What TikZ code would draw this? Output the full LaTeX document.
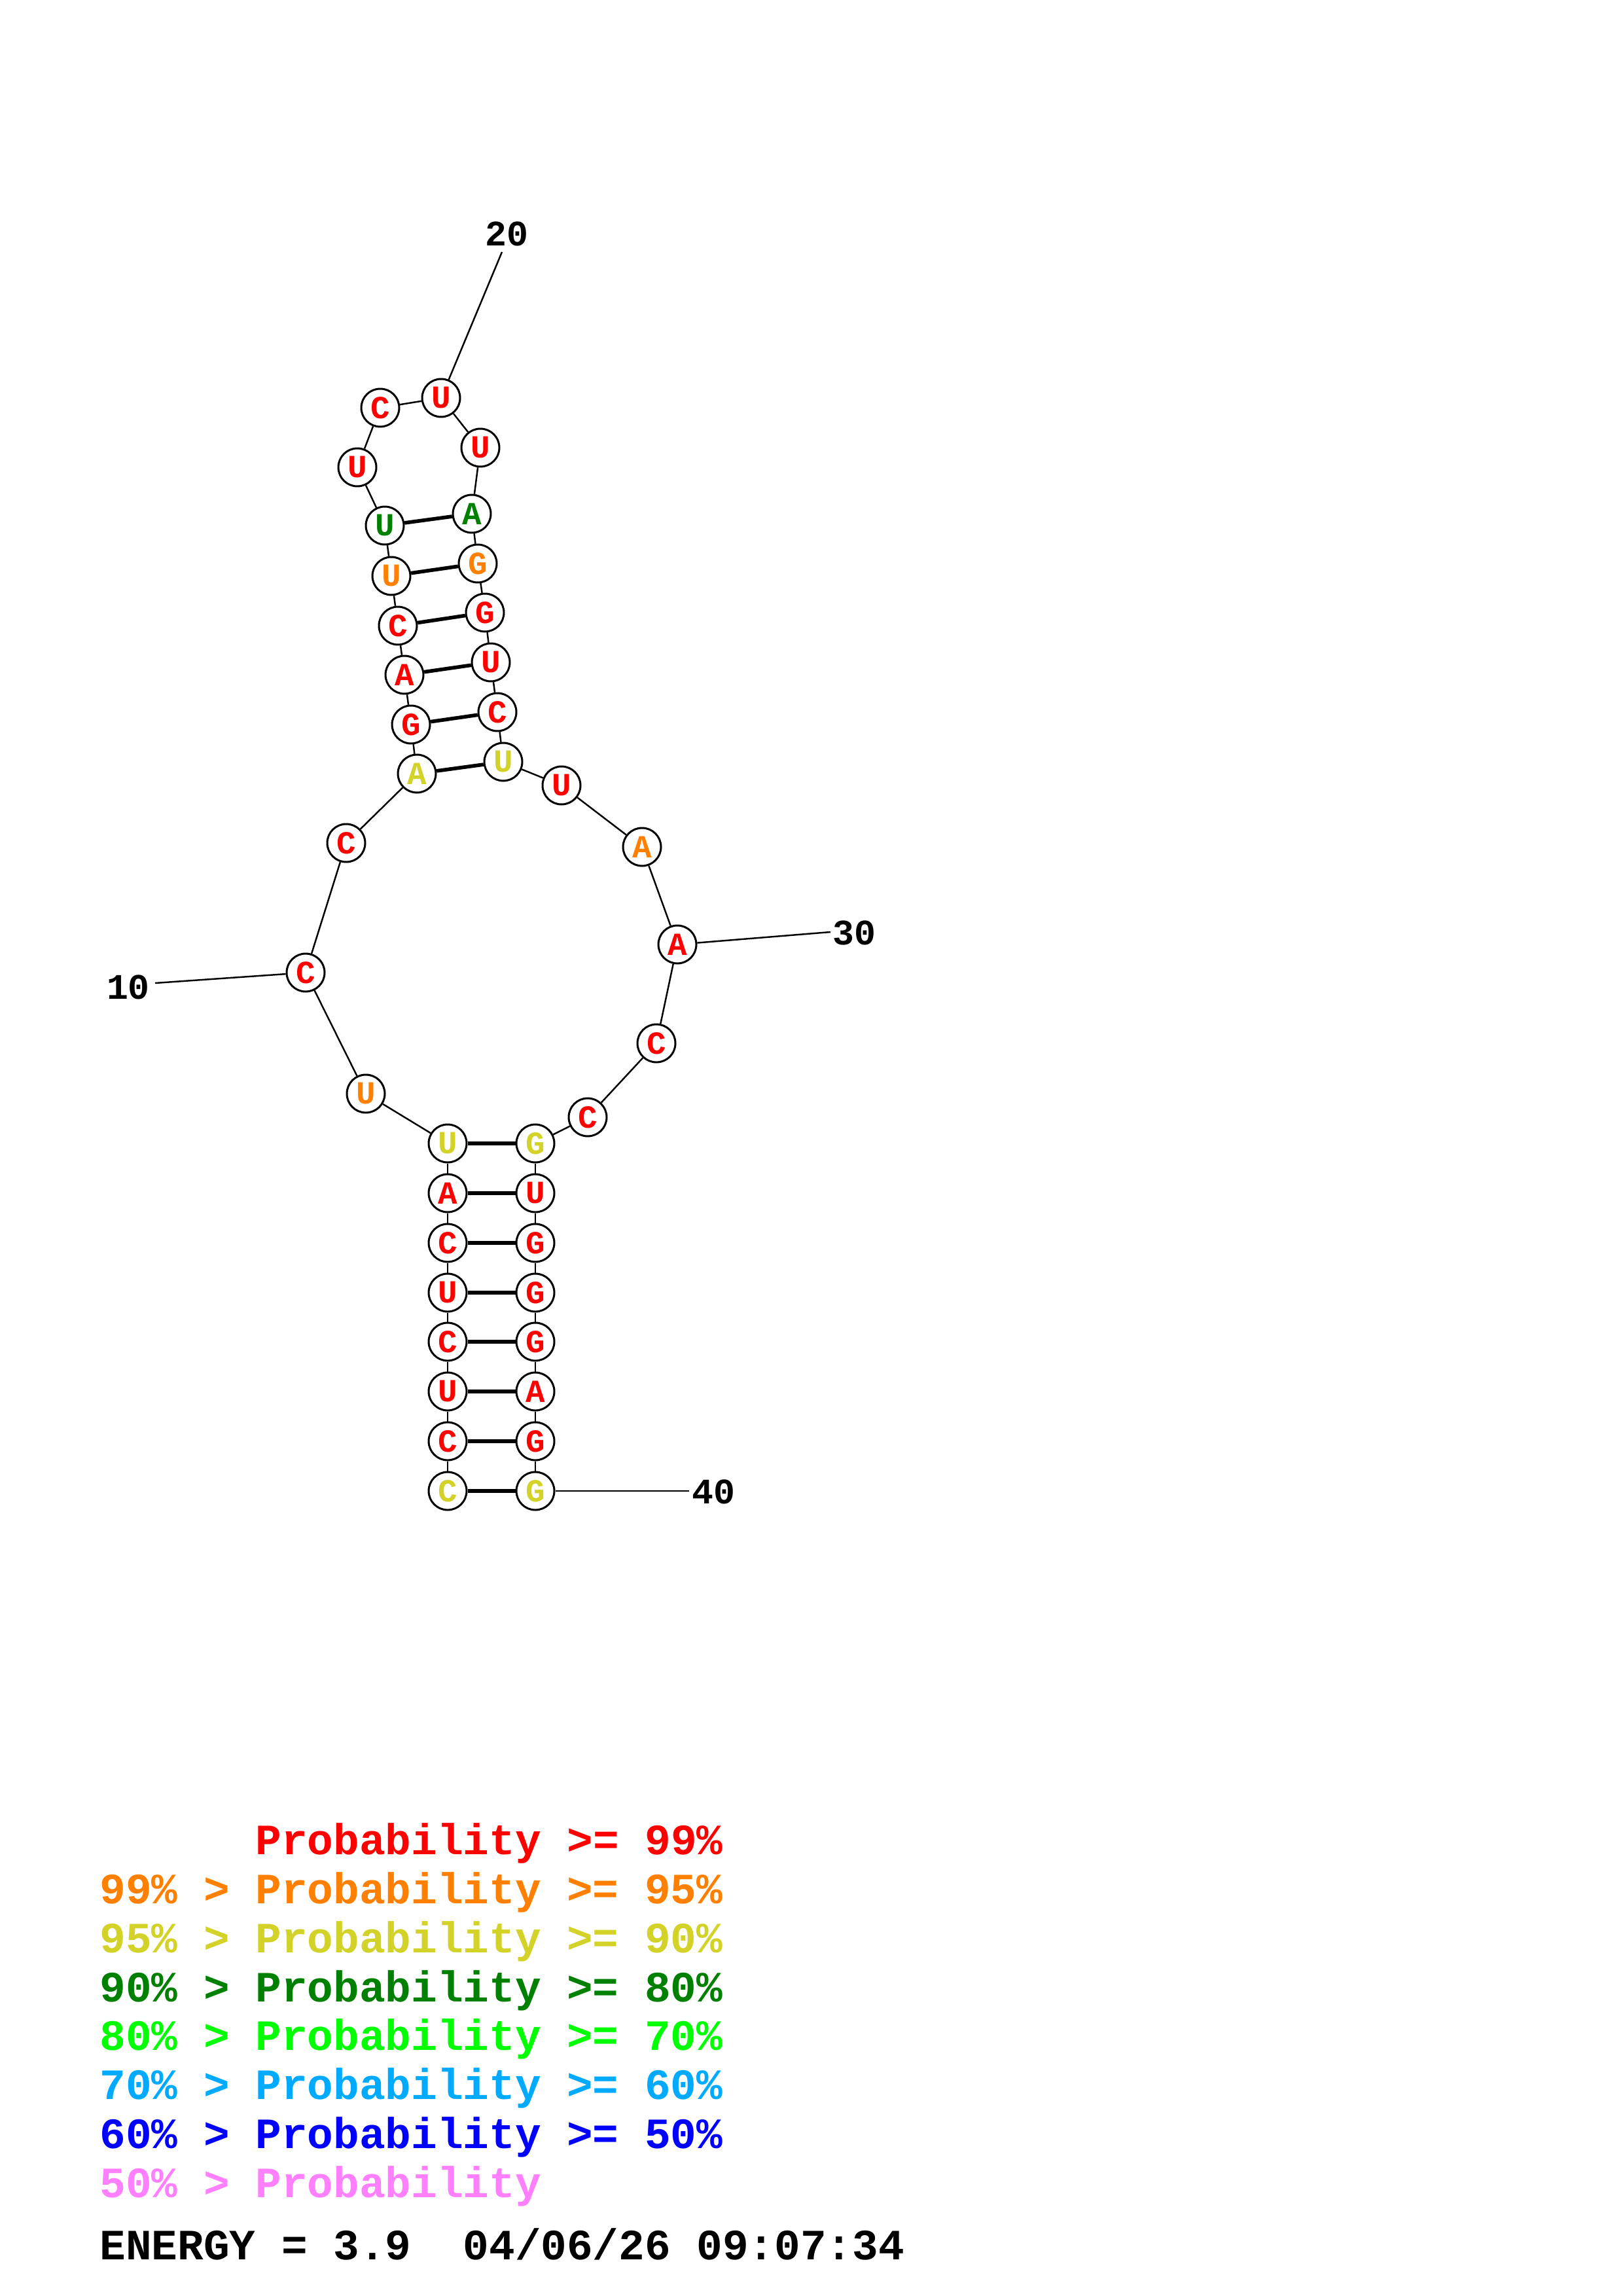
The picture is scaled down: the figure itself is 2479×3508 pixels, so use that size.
\documentclass[tikz,border=0pt]{standalone}
\usepackage{fontspec}
\newfontfamily\monofam{Liberation Mono}
\newcommand\myntfont{\monofam\bfseries\fontsize{14}{14}\selectfont}
\newcommand\mynumfont{\monofam\bfseries\fontsize{15.6}{16}\selectfont}
\newcommand\mylegfont{\monofam\bfseries\fontsize{18.8}{19}\selectfont}
\definecolor{cred}{RGB}{255,0,0}
\definecolor{corange}{RGB}{255,128,0}
\definecolor{cyellow}{RGB}{210,210,40}
\definecolor{cdgreen}{RGB}{0,128,0}
\definecolor{cgreen}{RGB}{0,255,0}
\definecolor{clblue}{RGB}{0,170,255}
\definecolor{cblue}{RGB}{0,0,255}
\definecolor{cpink}{RGB}{255,128,255}
\begin{document}
\begin{tikzpicture}[x=0.1mm,y=-0.1mm,
  nt/.style={circle,draw,line width=0.85pt,fill=white,minimum size=5.8mm,inner sep=0pt,font=\myntfont,text=cred},
  bb/.style={line width=0.7pt},
  bp/.style={line width=1.6pt},
  lbl/.style={font=\mynumfont},
  leg/.style={anchor=base west,font=\mylegfont,inner sep=0pt}]
\fill[white] (0,0) rectangle (2479,3508);
\useasboundingbox (0,0) rectangle (2479,3508);
% nucleotides
\node[nt,text=cyellow] (n1) at (684,2278) {C};
\node[nt] (n2) at (684,2202) {C};
\node[nt] (n3) at (684,2126) {U};
\node[nt] (n4) at (684,2050) {C};
\node[nt] (n5) at (684,1975) {U};
\node[nt] (n6) at (684,1899) {C};
\node[nt] (n7) at (684,1823) {A};
\node[nt,text=cyellow] (n8) at (684,1747) {U};
\node[nt,text=corange] (n9) at (559,1671) {U};
\node[nt] (n10) at (467,1486) {C};
\node[nt] (n11) at (529,1288) {C};
\node[nt,text=cyellow] (n12) at (637,1182) {A};
\node[nt] (n13) at (628,1107) {G};
\node[nt] (n14) at (618,1031) {A};
\node[nt] (n15) at (608,956) {C};
\node[nt,text=corange] (n16) at (598,880) {U};
\node[nt,text=cdgreen] (n17) at (588,803) {U};
\node[nt] (n18) at (546,714) {U};
\node[nt] (n19) at (581,623) {C};
\node[nt] (n20) at (674,608) {U};
\node[nt] (n21) at (734,684) {U};
\node[nt,text=cdgreen] (n22) at (721,785) {A};
\node[nt,text=corange] (n23) at (730,861) {G};
\node[nt] (n24) at (741,936) {G};
\node[nt] (n25) at (750,1012) {U};
\node[nt] (n26) at (760,1088) {C};
\node[nt,text=cyellow] (n27) at (769,1164) {U};
\node[nt] (n28) at (858,1200) {U};
\node[nt,text=corange] (n29) at (981,1294) {A};
\node[nt] (n30) at (1035,1443) {A};
\node[nt] (n31) at (1003,1594) {C};
\node[nt] (n32) at (898,1707) {C};
\node[nt,text=cyellow] (n33) at (818,1747) {G};
\node[nt] (n34) at (818,1823) {U};
\node[nt] (n35) at (818,1899) {G};
\node[nt] (n36) at (818,1975) {G};
\node[nt] (n37) at (818,2050) {G};
\node[nt] (n38) at (818,2126) {A};
\node[nt] (n39) at (818,2202) {G};
\node[nt,text=cyellow] (n40) at (818,2278) {G};
% backbone
\foreach \i [evaluate=\i as \j using int(\i+1)] in {1,...,39}
  \draw[bb] (n\i) -- (n\j);
% base pairs
\foreach \i [evaluate=\i as \j using int(41-\i)] in {1,...,8}
  \draw[bp] (n\i) -- (n\j);
\foreach \i [evaluate=\i as \j using int(39-\i)] in {12,...,17}
  \draw[bp] (n\i) -- (n\j);
% numbering
\node[lbl] (l10) at (196,1508) {10};
\coordinate (e10) at (237,1502);
\draw[bb] (n10) -- (e10);
\node[lbl] (l20) at (774,357) {20};
\coordinate (e20) at (767,385);
\draw[bb] (n20) -- (e20);
\node[lbl] (l30) at (1305,1425) {30};
\coordinate (e30) at (1269,1424);
\draw[bb] (n30) -- (e30);
\node[lbl] (l40) at (1090,2279) {40};
\coordinate (e40) at (1053,2278);
\draw[bb] (n40) -- (e40);
% legend
\node[leg,text=cred] (g1) at (390,2833) {Probability >= 99\%};
\node[leg,text=corange] (g2) at (152,2908) {99\% > Probability >= 95\%};
\node[leg,text=cyellow] (g3) at (152,2983) {95\% > Probability >= 90\%};
\node[leg,text=cdgreen] (g4) at (152,3058) {90\% > Probability >= 80\%};
\node[leg,text=cgreen] (g5) at (152,3132) {80\% > Probability >= 70\%};
\node[leg,text=clblue] (g6) at (152,3207) {70\% > Probability >= 60\%};
\node[leg,text=cblue] (g7) at (152,3282) {60\% > Probability >= 50\%};
\node[leg,text=cpink] (g8) at (152,3357) {50\% > Probability};
\node[leg] (g9) at (152,3452) {ENERGY = 3.9~~04/06/26 09:07:34};
\end{tikzpicture}
\end{document}
